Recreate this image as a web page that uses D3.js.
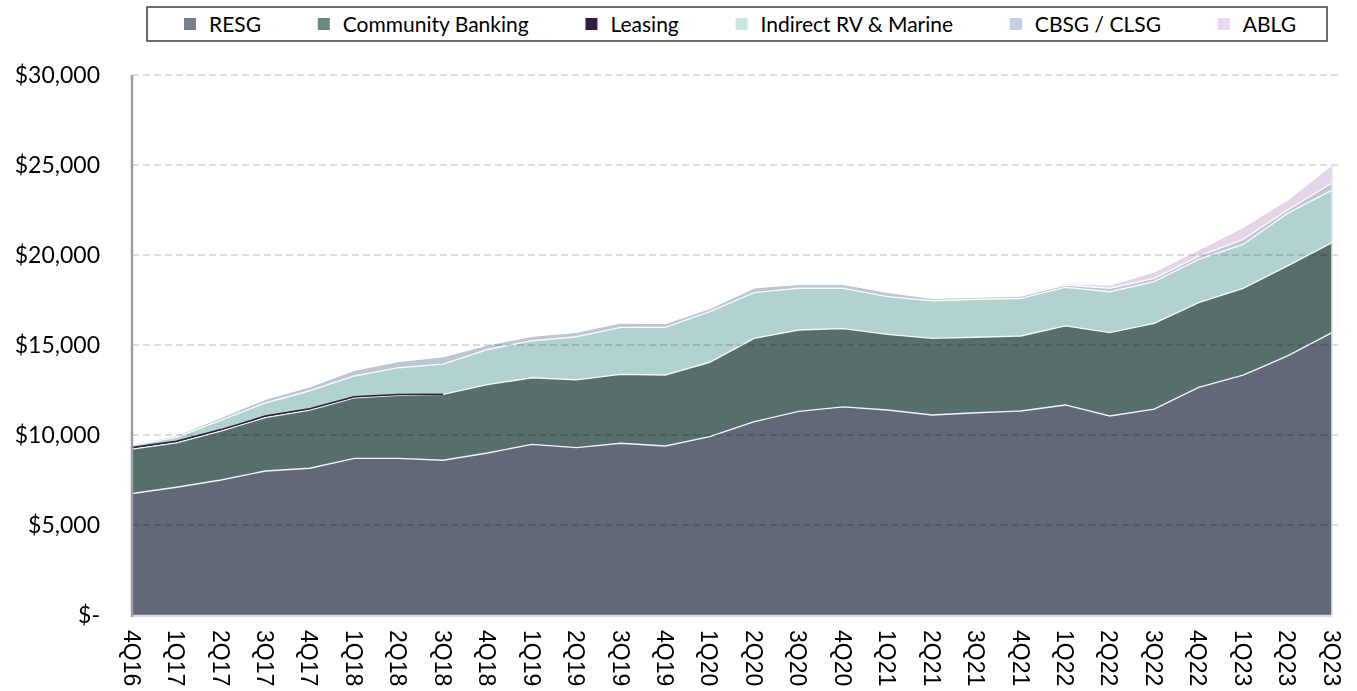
<!DOCTYPE html>
<html>
<head>
<meta charset="utf-8">
<script src="https://cdn.jsdelivr.net/npm/d3@7"></script>
<style>
  html, body { margin: 0; padding: 0; background: #fff; }
  svg { display: block; }
</style>
</head>
<body>
<svg id="chart" width="1357" height="691"></svg>
<script>
// quarters on the x axis
const quarters = ['4Q16','1Q17','2Q17','3Q17','4Q17','1Q18','2Q18','3Q18','4Q18','1Q19','2Q19','3Q19','4Q19',
  '1Q20','2Q20','3Q20','4Q20','1Q21','2Q21','3Q21','4Q21','1Q22','2Q22','3Q22','4Q22','1Q23','2Q23','3Q23']

// balances ($ millions) by segment
const resg = [6750,7100,7500,8000,8150,8700,8700,8600,9000,9480,9300,9540,9390,
  9910,10740,11310,11560,11390,11110,11240,11330,11670,11060,11440,12650,13330,14390,15690]
const communityBanking = [2470,2470,2720,2970,3240,3370,3510,3660,3800,3700,3760,3830,3940,
  4130,4630,4520,4350,4200,4260,4190,4170,4390,4630,4760,4700,4820,5000,5000]
const leasing = [80,80,80,80,70,60,40,0,0,0,0,0,0,0,0,0,0,0,0,0,0,0,0,0,0,0,0,0]
const indirectRV = [130,220,530,730,1000,1150,1490,1680,1950,2060,2400,2610,2650,
  2810,2540,2320,2240,2100,2090,2110,2090,2140,2270,2320,2410,2440,2920,2920]
const cbsg = [70,110,150,220,230,330,350,420,260,260,260,260,220,
  190,270,220,220,240,130,130,130,130,190,180,180,280,190,390]
const ablg = [0,0,0,0,0,0,0,0,0,0,0,0,0,0,20,20,20,20,30,20,40,90,180,370,340,670,560,1000]

const yTicks = [0,5000,10000,15000,20000,25000,30000]

const series = [
  { key: 'RESG', values: resg, fill: '#626877', swatch: '#7b8090' },
  { key: 'Community Banking', values: communityBanking, fill: '#566f6c', swatch: '#6b8882' },
  { key: 'Leasing', values: leasing, fill: '#2e1f3a', swatch: '#2e1f3d' },
  { key: 'Indirect RV & Marine', values: indirectRV, fill: '#b2d2cf', swatch: '#c9e6e3' },
  { key: 'CBSG / CLSG', values: cbsg, fill: '#bec5d4', swatch: '#c6cfdf' },
  { key: 'ABLG', values: ablg, fill: '#e3d4e8', swatch: '#e8d9ec' }
]

const table = quarters.map((q, i) => {
  let row = { q: q }
  series.forEach(s => { row[s.key] = s.values[i] })
  return row
})

const svg = d3.select('#chart')
const plot = { left: 132, right: 1332, top: 75, bottom: 615 }

const x = d3.scalePoint().domain(quarters).range([plot.left, plot.right])
const y = d3.scaleLinear().domain([0, 30000]).range([plot.bottom, plot.top])

const stack = d3.stack().keys(series.map(s => s.key))
const layers = stack(table)

const area = d3.area()
  .x(d => x(d.data.q))
  .y0(d => y(d[0]))
  .y1(d => y(d[1]))

const topLine = d3.line()
  .x(d => x(d.data.q))
  .y(d => y(d[1]))

// areas
svg.append('g')
  .selectAll('path')
  .data(layers)
  .join('path')
  .attr('d', area)
  .attr('fill', (d, i) => series[i].fill)

// white edges on each layer's top
svg.append('g')
  .selectAll('path')
  .data(layers.filter((d, i) => series[i].key !== 'Leasing'))
  .join('path')
  .attr('d', topLine)
  .attr('fill', 'none')
  .attr('stroke', '#ffffff')
  .attr('stroke-width', 1.4)
  .attr('stroke-opacity', 0.9)

// leasing is only a thin dark line over community banking
svg.append('path')
  .datum(layers[2])
  .attr('d', d3.line().x(d => x(d.data.q)).y(d => y(d[1]))
    .defined((d, i) => leasing[i] > 0 || leasing[i - 1] > 0))
  .attr('fill', 'none')
  .attr('stroke', '#2e1f3a')
  .attr('stroke-width', 1.5)

// dashed gridlines, multiplied over the fills
svg.append('g')
  .style('mix-blend-mode', 'multiply')
  .selectAll('line')
  .data(yTicks.filter(t => t > 0))
  .join('line')
  .attr('x1', plot.left)
  .attr('x2', plot.right + 6)
  .attr('y1', d => y(d))
  .attr('y2', d => y(d))
  .attr('stroke', '#d2d2d2')
  .attr('stroke-width', 1.5)
  .attr('stroke-dasharray', '7,4')

// axis lines
svg.append('line')
  .attr('x1', plot.left).attr('x2', plot.right)
  .attr('y1', plot.bottom + 1).attr('y2', plot.bottom + 1)
  .attr('stroke', '#d9dde3').attr('stroke-width', 2.5)
svg.append('line')
  .attr('x1', plot.right).attr('x2', plot.right)
  .attr('y1', y(d3.sum(series, s => s.values[quarters.length - 1]))).attr('y2', plot.bottom)
  .attr('stroke', '#e4e6ea').attr('stroke-width', 1.5)
svg.append('line')
  .attr('x1', plot.left).attr('x2', plot.left)
  .attr('y1', plot.top).attr('y2', plot.bottom + 2)
  .attr('stroke', '#9a9ea7').attr('stroke-width', 2.5)

// y labels
const fmt = d3.format(',')
svg.append('g')
  .selectAll('text')
  .data(yTicks)
  .join('text')
  .attr('x', 100)
  .attr('y', d => y(d))
  .attr('dy', '0.35em')
  .attr('text-anchor', 'end')
  .attr('font-family', 'Lato, "Open Sans", sans-serif')
  .attr('font-size', 23)
  .attr('fill', '#000')
  .text(d => d === 0 ? '$-' : '$' + fmt(d))

// x labels, rotated to read top to bottom
svg.append('g')
  .selectAll('text')
  .data(quarters)
  .join('text')
  .attr('transform', d => `translate(${x(d)},630) rotate(90)`)
  .attr('dy', '0.36em')
  .attr('font-family', '"Liberation Sans", Arial, sans-serif')
  .attr('font-size', 23)
  .attr('fill', '#000')
  .text(d => d)

// legend
const legend = svg.append('g')
legend.append('rect')
  .attr('x', 147).attr('y', 7).attr('width', 1180).attr('height', 34)
  .attr('fill', '#fff').attr('stroke', '#3c3c3c').attr('stroke-width', 1.5)

const items = legend.selectAll('g.item')
  .data(series)
  .join('g')
  .attr('class', 'item')
items.append('rect')
  .attr('width', 12).attr('height', 12)
  .attr('y', 18)
  .attr('fill', d => d.swatch)
items.append('text')
  .attr('y', 24)
  .attr('dy', '0.36em')
  .attr('font-family', 'Lato, "Open Sans", sans-serif')
  .attr('font-size', 21)
  .attr('fill', '#000')
  .text(d => d.key)

// spread items so the first swatch and last label land where they do in the picture
const startX = 184, endX = 1296, swGap = 13
const widths = []
items.selectAll('text').each(function () { widths.push(this.getComputedTextLength()) })
const used = d3.sum(widths) + series.length * (12 + swGap)
const gap = (endX - startX - used) / (series.length - 1)
let cx = startX
items.each(function (d, i) {
  const g = d3.select(this)
  g.select('rect').attr('x', cx)
  g.select('text').attr('x', cx + 12 + swGap)
  cx += 12 + swGap + widths[i] + gap
})
</script>
</body>
</html>
